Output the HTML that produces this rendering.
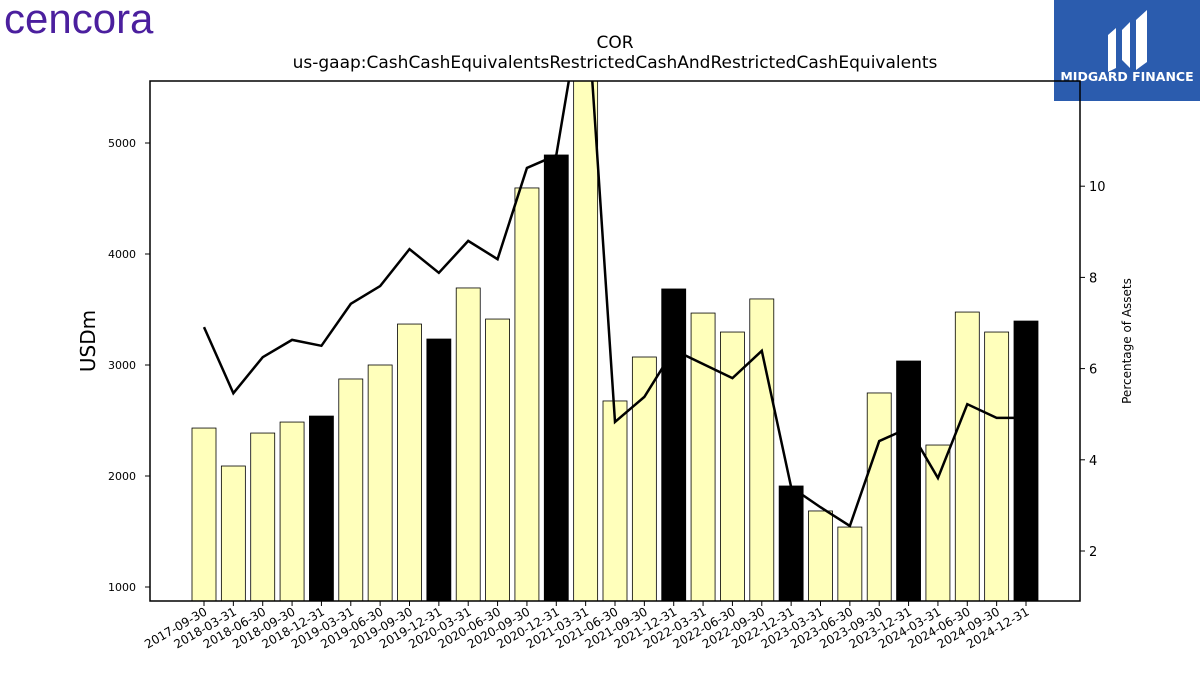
<!DOCTYPE html>
<html><head><meta charset="utf-8"><style>
body{margin:0;background:#fff;width:1200px;height:675px;overflow:hidden;font-family:"Liberation Sans","DejaVu Sans",sans-serif}
</style></head><body>
<svg width="1200" height="675" xmlns="http://www.w3.org/2000/svg" style="font-family:'DejaVu Sans','Liberation Sans',sans-serif">
<text x="4" y="33" font-size="42" fill="#4b1f9e" font-family="Liberation Sans, sans-serif">cencora</text>
<g>
<rect x="1054" y="0" width="146" height="101" fill="#2b5cae"/>
<path d="M1108 35 L1116 28 L1116 68 L1108 72 Z M1122 30 L1130 22 L1130 68 L1122 60 Z M1136 20 L1147 10 L1147 62 L1136 70 Z" fill="#fff"/>
<text x="1127" y="81" font-size="12.5" font-weight="bold" fill="#fff" text-anchor="middle">MIDGARD FINANCE</text>
</g>
<text x="615" y="48" font-size="17" text-anchor="middle">COR</text>
<text x="615" y="68" font-size="17" text-anchor="middle">us-gaap:CashCashEquivalentsRestrictedCashAndRestrictedCashEquivalents</text>
<defs><clipPath id="pa"><rect x="150" y="81" width="930" height="520"/></clipPath></defs>
<g id="bars" clip-path="url(#pa)"></g>
<g id="line" clip-path="url(#pa)"></g>
<rect x="150" y="81" width="930" height="520" fill="none" stroke="#000" stroke-width="1.5"/>
<g id="axes"></g>
<text transform="translate(95,341) rotate(-90)" font-size="20" text-anchor="middle">USDm</text>
<text transform="translate(1131,341) rotate(-90)" font-size="12" text-anchor="middle">Percentage of Assets</text>
</svg>
<script>
const categories=["2017-09-30","2018-03-31","2018-06-30","2018-09-30","2018-12-31","2019-03-31","2019-06-30","2019-09-30","2019-12-31","2020-03-31","2020-06-30","2020-09-30","2020-12-31","2021-03-31","2021-06-30","2021-09-30","2021-12-31","2022-03-31","2022-06-30","2022-09-30","2022-12-31","2023-03-31","2023-06-30","2023-09-30","2023-12-31","2024-03-31","2024-06-30","2024-09-30","2024-12-31"];
const cashValues=[2432,2090,2387,2486,2540,2874,3000,3369,3234,3694,3414,4595,4892,5700,2676,3072,3685,3468,3297,3595,1910,1685,1540,2748,3036,2279,3477,3297,3396];
const pctValues=[6.91,5.46,6.25,6.63,6.50,7.42,7.81,8.62,8.10,8.80,8.40,10.40,10.68,14.5,4.83,5.38,6.41,6.10,5.79,6.39,3.40,2.96,2.55,4.41,4.70,3.60,5.22,4.92,4.92];
const leftTicks=[1000,2000,3000,4000,5000];
const rightTicks=[2,4,6,8,10];
const NS="http://www.w3.org/2000/svg";
const yL=v=>587-(v-1000)*0.111;
const yR=v=>551-(v-2)*45.6;
const xC=i=>204+i*(822/28);
function mk(t,a,p){const e=document.createElementNS(NS,t);for(const k in a)e.setAttribute(k,a[k]);p.appendChild(e);return e;}
const bars=document.getElementById('bars'),line=document.getElementById('line'),axes=document.getElementById('axes');
cashValues.forEach((v,i)=>{
 const q4=categories[i].endsWith('12-31');
 const r=mk('rect',{x:xC(i)-12,y:yL(v),width:24,height:601-yL(v),fill:q4?'#000':'#ffffbb',stroke:'#000','stroke-width':0.8},bars);
 
 
});
const pl=mk('polyline',{points:pctValues.map((v,i)=>xC(i)+','+yR(v)).join(' '),fill:'none',stroke:'#000','stroke-width':2.5},line);


leftTicks.forEach(v=>{
 mk('line',{x1:145,x2:150,y1:yL(v),y2:yL(v),stroke:'#000'},axes);
 const t=mk('text',{x:136,y:yL(v)+4,'font-size':11,'text-anchor':'end'},axes);t.textContent=v;
 
 
});
rightTicks.forEach(v=>{
 mk('line',{x1:1080,x2:1085,y1:yR(v),y2:yR(v),stroke:'#000'},axes);
 const t=mk('text',{x:1089,y:yR(v)+5,'font-size':13},axes);t.textContent=v;
 
 
});
categories.forEach((c,i)=>{
 const x=xC(i);
 mk('line',{x1:x,x2:x,y1:601,y2:606,stroke:'#000'},axes);
 const t=mk('text',{transform:`translate(${x+4},${614}) rotate(-30)`,'font-size':12,'text-anchor':'end'},axes);t.textContent=c;
 
 
});
</script>
</body></html>
